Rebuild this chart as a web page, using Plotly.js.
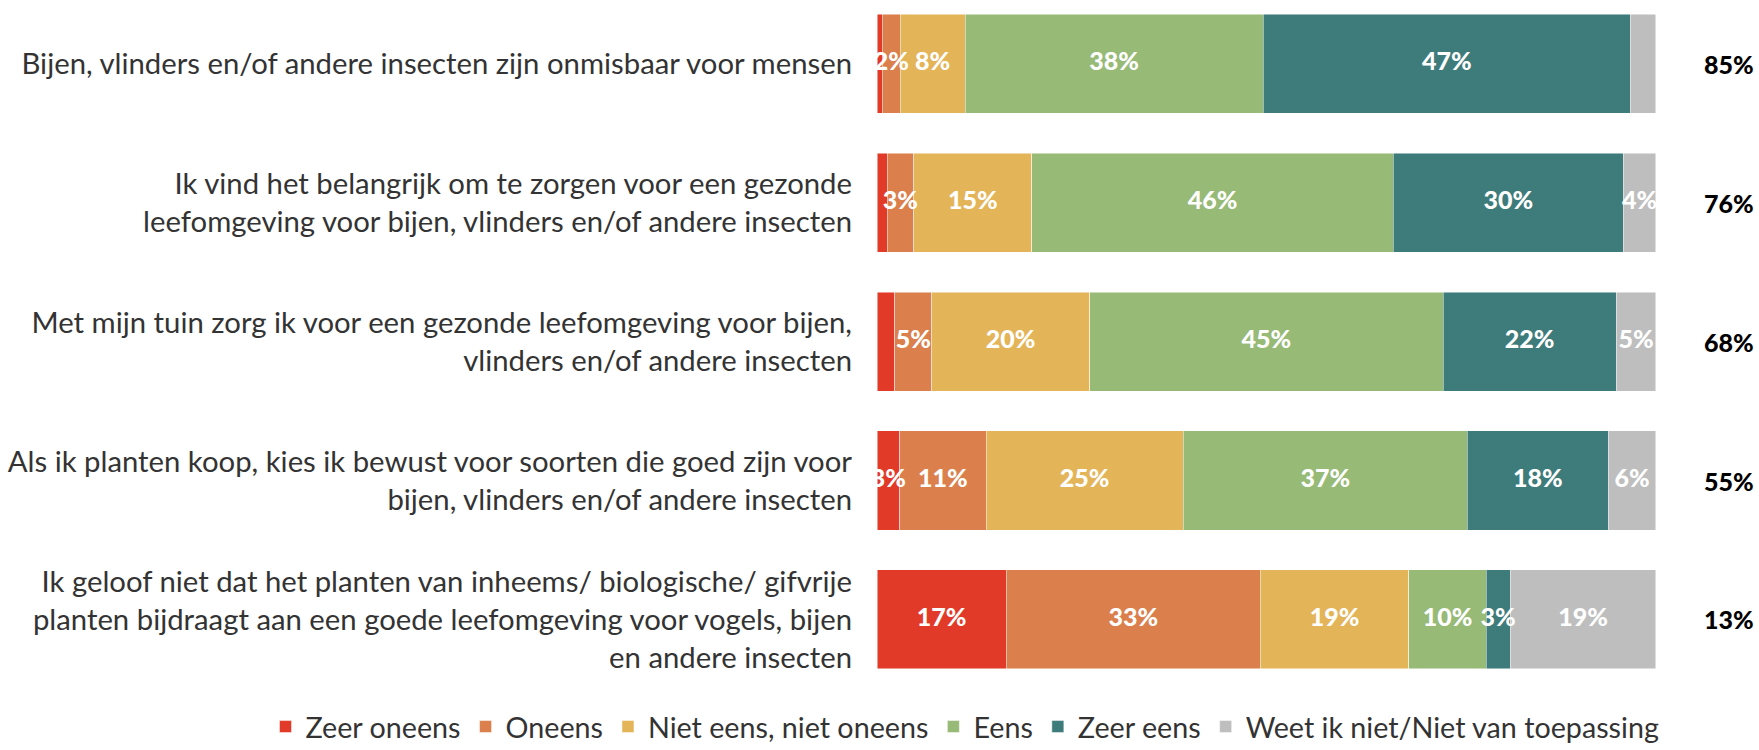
<!DOCTYPE html>
<html>
<head>
<meta charset="utf-8">
<script src="https://cdn.plot.ly/plotly-3.0.1.min.js"></script>
<style>
  html, body { margin: 0; padding: 0; background: #fff; }
  #chart { width: 1759px; height: 750px; }
</style>
</head>
<body>
<div id="chart"></div>
<script>
// statements, top to bottom
const statements = [
    'Bijen, vlinders en/of andere insecten zijn onmisbaar voor mensen',
    'Ik vind het belangrijk om te zorgen voor een gezonde<br>leefomgeving voor bijen, vlinders en/of andere insecten',
    'Met mijn tuin zorg ik voor een gezonde leefomgeving voor bijen,<br>vlinders en/of andere insecten',
    'Als ik planten koop, kies ik bewust voor soorten die goed zijn voor<br>bijen, vlinders en/of andere insecten',
    'Ik geloof niet dat het planten van inheems/ biologische/ gifvrije<br>planten bijdraagt aan een goede leefomgeving voor vogels, bijen<br>en andere insecten'
];

// answer shares (%)
const zeerOneens = [0.7, 1.3, 2.3, 2.9, 16.6];
const oneens = [2.3, 3.4, 4.7, 11.1, 32.6];
const nietEens = [8.3, 15.2, 20.3, 25.3, 19.1];
const eens = [38.3, 46.4, 45.4, 36.5, 9.9];
const zeerEens = [47.1, 29.5, 22.2, 18.1, 3.1];
const weetNiet = [3.3, 4.2, 5.1, 6.1, 18.7];

// labels printed in the bars
const zeerOneensLabels = ['', '', '', '3%', '17%'];
const oneensLabels = ['2%', '3%', '5%', '11%', '33%'];
const nietEensLabels = ['8%', '15%', '20%', '25%', '19%'];
const eensLabels = ['38%', '46%', '45%', '37%', '10%'];
const zeerEensLabels = ['47%', '30%', '22%', '18%', '3%'];
const weetNietLabels = ['', '4%', '5%', '6%', '19%'];

const series = [
    { name: 'Zeer oneens', values: zeerOneens, labels: zeerOneensLabels, color: '#E23A28' },
    { name: 'Oneens', values: oneens, labels: oneensLabels, color: '#DB804C' },
    { name: 'Niet eens, niet oneens', values: nietEens, labels: nietEensLabels, color: '#E4B458' },
    { name: 'Eens', values: eens, labels: eensLabels, color: '#97BA76' },
    { name: 'Zeer eens', values: zeerEens, labels: zeerEensLabels, color: '#3E7B7B' },
    { name: 'Weet ik niet/Niet van toepassing', values: weetNiet, labels: weetNietLabels, color: '#BEBEBE' }
];

const font = 'Lato, "Open Sans", sans-serif';

const barTraces = series.map(s => ({
    type: 'bar',
    orientation: 'h',
    name: s.name,
    y: statements,
    x: s.values,
    textposition: 'none',
    marker: { color: s.color, line: { color: 'rgba(255,255,255,0.6)', width: 0.8 } },
    hoverinfo: 'name+x'
}));

// labels drawn on top of all bars, at the middle of each segment
const offsets = statements.map(() => 0);
const labelTraces = series.map(s => {
    const mids = s.values.map((v, i) => offsets[i] + v / 2);
    s.values.forEach((v, i) => { offsets[i] += v; });
    return {
        type: 'scatter',
        mode: 'text',
        x: mids,
        y: statements,
        text: s.labels,
        textposition: 'middle center',
        textfont: { family: font, size: 25, color: '#ffffff', weight: 900 },
        cliponaxis: false,
        showlegend: false,
        hoverinfo: 'skip'
    };
});

// total agree (eens + zeer eens) on the right
const agreeAnnotations = statements.map((st, i) => ({
    xref: 'paper', yref: 'y',
    x: 1.128, y: st,
    xanchor: 'right', yanchor: 'middle',
    text: Math.round(eens[i] + zeerEens[i]) + '%',
    showarrow: false,
    font: { family: font, size: 25, color: '#000000', weight: 900 }
}));

const layout = {
    barmode: 'stack',
    bargap: 0.287,
    width: 1759,
    height: 750,
    margin: { l: 877, r: 103, t: 10, b: 70, autoexpand: false },
    paper_bgcolor: '#ffffff',
    plot_bgcolor: '#ffffff',
    font: { family: font, color: '#333333' },
    xaxis: {
        range: [0, 100.02],
        visible: false,
        fixedrange: true
    },
    yaxis: {
        range: [4.436, -0.387],
        showgrid: false,
        zeroline: false,
        showline: false,
        ticks: '',
        ticklabelstandoff: 24,
        tickfont: { family: font, size: 29.3, color: '#333333' },
        fixedrange: true
    },
    showlegend: true,
    legend: {
        orientation: 'h',
        traceorder: 'normal',
        x: -0.785, xanchor: 'left',
        y: -0.07, yanchor: 'middle',
        font: { family: font, size: 28.7, color: '#333333' },
        itemwidth: 30,
        tracegroupgap: 0
    },
    annotations: agreeAnnotations
};

Plotly.newPlot('chart', barTraces.concat(labelTraces), layout, { displayModeBar: false, staticPlot: true });
</script>
</body>
</html>
